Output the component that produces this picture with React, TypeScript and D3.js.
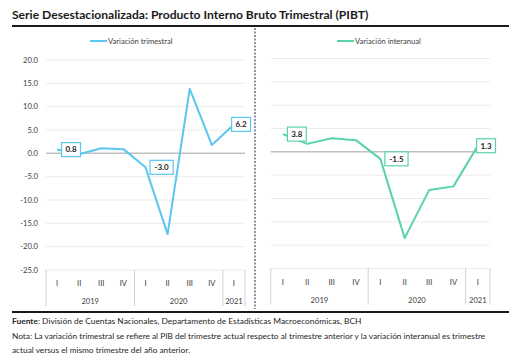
import * as d3 from "d3";

const quarters = ["I", "II", "III", "IV", "I", "II", "III", "IV", "I"];
const years = ["2019", "2020", "2021"];
const yearSpans = [4, 4, 1];
const yTicks = [20, 15, 10, 5, 0, -5, -10, -15, -20, -25];

const trimestral = [0.8, -0.2, 1.1, 0.9, -3.0, -17.3, 13.8, 1.8, 6.2];
const interanual = [3.8, 1.7, 2.9, 2.5, -1.5, -18.5, -8.2, -7.4, 1.3];
const labeled = [0, 4, 8];

const FONT = "Lato, 'Open Sans', sans-serif";
const TEXT = "#404040";

interface PanelProps {
  values: number[];
  color: string;
  legend: string;
  x0: number;
  x1: number;
  yTop: number;
  legendX: number;
  showYAxis: boolean;
}

function Panel({ values, color, legend, x0, x1, yTop, legendX, showYAxis }: PanelProps) {
  const x = d3.scaleBand<number>().domain(d3.range(quarters.length)).range([x0, x1]).padding(0);
  const y = d3.scaleLinear().domain([-25, 20]).range([yTop + 210, yTop]);
  const cx = (i: number) => (x(i) ?? 0) + x.bandwidth() / 2;

  const line = d3.line<number>().x((_, i) => cx(i)).y(d => y(d));

  // year group boundaries
  const bounds = [0];
  yearSpans.forEach(s => bounds.push(bounds[bounds.length - 1] + s));
  const edge = (i: number) => (i >= quarters.length ? x1 : x(i) ?? 0);
  const axisY = y(-25);

  return (
    <g fontFamily={FONT}>
      {/* legend */}
      <line x1={legendX} x2={legendX + 17} y1={41} y2={41} stroke={color} strokeWidth={2} />
      <text x={legendX + 18} y={43.6} fontSize={7.6} fill={TEXT}>{legend}</text>

      {/* grid */}
      {yTicks.map(t => (
        <line
          key={t}
          x1={x0}
          x2={x1}
          y1={y(t)}
          y2={y(t)}
          stroke={t === 0 ? "#bfbfbf" : "#ebebeb"}
          strokeWidth={t === 0 ? 1.5 : 1}
        />
      ))}
      {showYAxis && yTicks.map(t => (
        <text key={`l${t}`} x={38} y={y(t) + 2.7} textAnchor="end" fontSize={7.6} fill={TEXT}>
          {t.toFixed(1)}
        </text>
      ))}

      {/* category axis */}
      {bounds.map((b, i) => (
        <line key={`s${i}`} x1={edge(b)} x2={edge(b)} y1={axisY} y2={axisY + 36} stroke="#d0d0d0" strokeWidth={1} />
      ))}
      {quarters.map((q, i) => (
        <text key={`q${i}`} x={cx(i)} y={axisY + 16} textAnchor="middle" fontSize={7.6} fill={TEXT}>{q}</text>
      ))}
      {years.map((yr, i) => (
        <text
          key={yr}
          x={(edge(bounds[i]) + edge(bounds[i + 1])) / 2}
          y={axisY + 34}
          textAnchor="middle"
          fontSize={7.6}
          fill={TEXT}
        >
          {yr}
        </text>
      ))}

      {/* series */}
      <path d={line(values) ?? ""} fill="none" stroke={color} strokeWidth={2} strokeLinejoin="round" />

      {/* data labels */}
      {labeled.map(i => {
        const txt = values[i].toFixed(1);
        const w = txt.length * 4.3 + 6;
        let left = cx(i) + 4.5;
        if (left + w > x1 + 5.5) left = x1 + 5.5 - w;
        const cy = y(values[i]);
        return (
          <g key={`d${i}`}>
            <rect x={left} y={cy - 7} width={w} height={14} fill="white" stroke={color} strokeWidth={1.2} />
            <text x={left + w / 2} y={cy + 2.8} textAnchor="middle" fontSize={8} fontWeight="bold" fill="#262626">
              {txt}
            </text>
          </g>
        );
      })}
    </g>
  );
}

export default function App() {
  return (
    <svg
      width={521}
      height={361}
      style={{ position: "absolute", left: 0, top: 0, background: "white" }}
      fontFamily={FONT}
    >
      <text x={12} y={18.5} fontSize={12.1} fontWeight="bold" fill="#1a1a1a">
        Serie Desestacionalizada: Producto Interno Bruto Trimestral (PIBT)
      </text>
      <line x1={12} x2={509} y1={26} y2={26} stroke="#1a1a1a" strokeWidth={2} />

      <Panel values={trimestral} color="#5bc6ef" legend="Variación trimestral" x0={46} x1={245} yTop={60} legendX={90} showYAxis />
      <Panel values={interanual} color="#5ad3a6" legend="Variación interanual" x0={270.7} x1={490} yTop={58.5} legendX={337} showYAxis={false} />

      <line x1={255} x2={255} y1={28} y2={309} stroke="#3f4d60" strokeWidth={1.2} strokeDasharray="2,1.5" />

      <line x1={12} x2={509} y1={312} y2={312} stroke="#1a1a1a" strokeWidth={2} />
      <text x={12} y={324} fontSize={8.4} fill="#262626">
        <tspan fontWeight="bold">Fuente</tspan>: División de Cuentas Nacionales, Departamento de Estadísticas Macroeconómicas, BCH
      </text>
      <text x={12} y={338.5} fontSize={8.3} fill="#262626">
        Nota: La variación trimestral se refiere al PIB del trimestre actual respecto al trimestre anterior y la variación interanual es trimestre
      </text>
      <text x={12} y={352.5} fontSize={8.3} fill="#262626">
        actual versus el mismo trimestre del año anterior.
      </text>
    </svg>
  );
}
